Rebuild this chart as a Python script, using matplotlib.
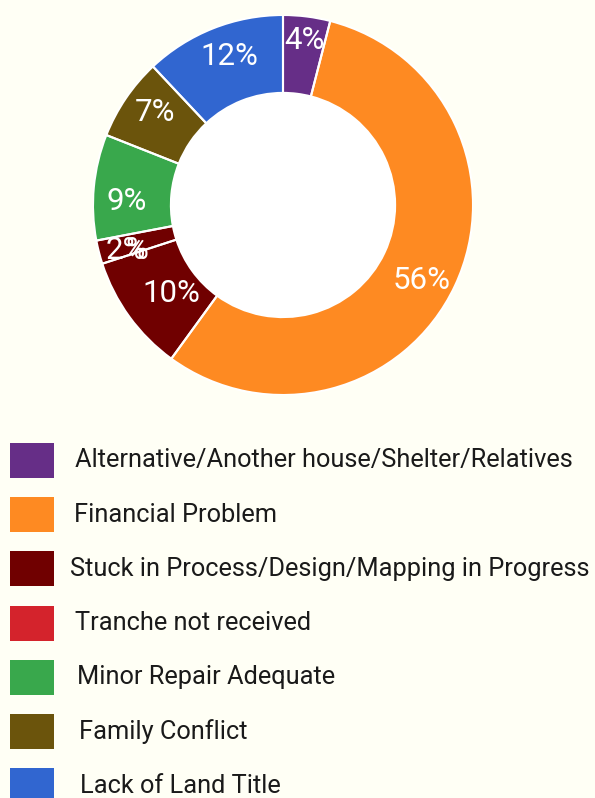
import numpy as np
import matplotlib
matplotlib.use("Agg")
import matplotlib.pyplot as plt
from matplotlib.patches import Rectangle, Circle, Wedge

# Reasons for not rebuilding the house
categories = [
    "Alternative/Another house/Shelter/Relatives",
    "Financial Problem",
    "Stuck in Process/Design/Mapping in Progress",
    "Tranche not received",
    "Minor Repair Adequate",
    "Family Conflict",
    "Lack of Land Title",
]
shares = [4, 56, 10, 2, 9, 7, 12]
pct_labels = ["4%", "56%", "10%", "2%", "9%", "7%", "12%"]

legend_colors = ["#662e87", "#fe8a22", "#700000", "#d4232c", "#39a84c", "#6b540c", "#3166d0"]
wedge_colors = ["#662e87", "#fe8a22", "#700000", "#700000", "#39a84c", "#6b540c", "#3166d0"]

BG = "#fffff5"
FONT = "Roboto"

W, H, DPI = 595, 798, 100
fig = plt.figure(figsize=(W / DPI, H / DPI), dpi=DPI, facecolor=BG)

# Donut: centre (283, 205) px, outer radius 190 px
cx, cy, R = 283, 205, 190
ax = fig.add_axes([(cx - R) / W, (H - cy - R) / H, 2 * R / W, 2 * R / H])
ax.set_xlim(-1, 1)
ax.set_ylim(-1, 1)
ax.set_aspect("equal")
ax.axis("off")

ring_width = 0.41
total = float(sum(shares))
start = 90.0
angles = []
for val, col in zip(shares, wedge_colors):
    sweep = 360.0 * val / total
    theta1, theta2 = start - sweep, start
    ax.add_patch(Wedge((0, 0), 1, theta1, theta2, width=ring_width,
                       facecolor=col, edgecolor="none", zorder=1))
    angles.append((theta1, theta2))
    start -= sweep

ax.add_patch(Circle((0, 0), 1 - ring_width, facecolor="white", edgecolor="none", zorder=1))

# Percentage labels along the ring (glyphs centred on the anchor point)
label_size = 22.5
cap_shift = -0.355 * label_size
label_radius = [0.886, 0.823, 0.741, 0.857, 0.824, 0.837, 0.843]
label_nudge_deg = [0.0, -2.4, 1.6, 0.9, 3.2, -2.5, -2.1]
fig.canvas.draw()
renderer = fig.canvas.get_renderer()
for (t1, t2), txt, r, nudge in zip(angles, pct_labels, label_radius, label_nudge_deg):
    mid = np.deg2rad((t1 + t2) / 2 + nudge)
    x, y = r * np.cos(mid), r * np.sin(mid)
    t = ax.annotate(txt, (x, y), xytext=(0, cap_shift), textcoords="offset points",
                    color="white", fontsize=label_size, family=FONT,
                    ha="center", va="baseline", zorder=2)
    if txt == "2%":
        # the per-cent sign of this small slice is printed twice, slightly shifted
        half_w = t.get_window_extent(renderer).width / 2 * 72 / DPI
        ax.annotate("%", (x, y), xytext=(half_w + 1.5, cap_shift), textcoords="offset points",
                    color="white", fontsize=label_size, family=FONT,
                    ha="right", va="baseline", zorder=2)

# White separators drawn over the labels
for (t1, t2) in angles:
    ax.add_patch(Wedge((0, 0), 1, t1, t2, width=ring_width,
                       facecolor="none", edgecolor="white", linewidth=1.5, zorder=3))

# Legend
lax = fig.add_axes([0, 0, 1, 1])
lax.set_xlim(0, W)
lax.set_ylim(H, 0)
lax.axis("off")
lax.patch.set_alpha(0)

row_top = 443
row_step = 54.2
text_x = [75, 74, 70, 75, 77, 79, 80]
for i, (name, col) in enumerate(zip(categories, legend_colors)):
    top = row_top + i * row_step
    lax.add_patch(Rectangle((10, top), 44, 35, facecolor=col, edgecolor="none"))
    lax.text(text_x[i], top + 17.5, name, fontsize=18.3, family=FONT,
             color="#1a1a1a", ha="left", va="center")

fig.savefig("out.png", dpi=DPI, facecolor=BG)
